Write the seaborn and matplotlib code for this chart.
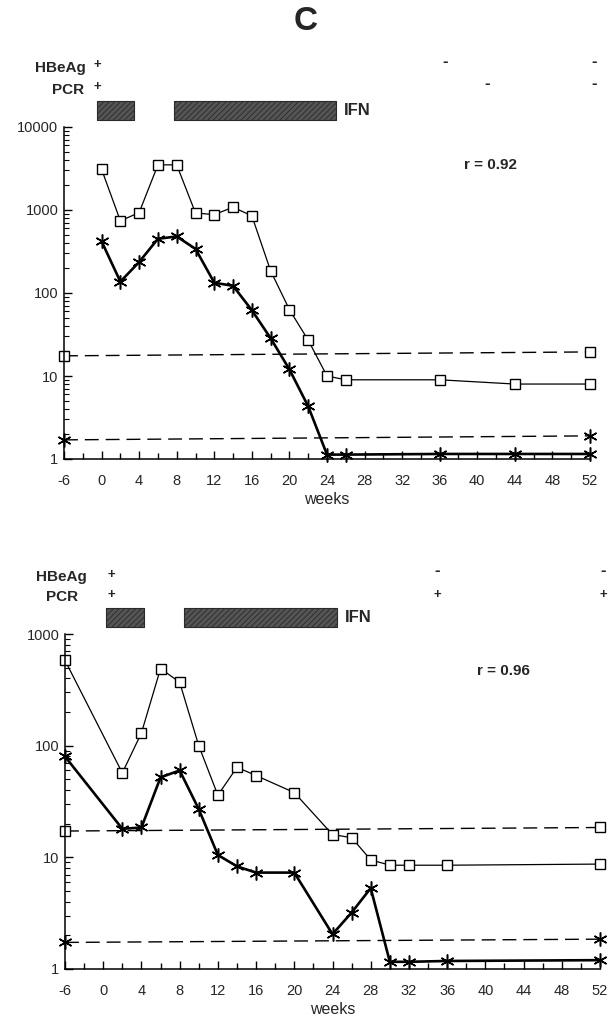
import numpy as np
import pandas as pd
import matplotlib
matplotlib.use("Agg")
import matplotlib.pyplot as plt
from matplotlib.ticker import FixedLocator, MultipleLocator, NullFormatter, LogLocator
import seaborn as sns

# ---------------- data ----------------
# upper patient
weeks_top = [0, 2, 4, 6, 8, 10, 12, 14, 16, 18, 20, 22, 24, 26, 36, 44, 52]
square_top = [3100, 740, 930, 3500, 3500, 920, 880, 1080, 850, 185, 63, 27, 10, 9, 9, 8, 8]
star_top = [420, 137, 236, 450, 480, 340, 133, 122, 62, 28.5, 12, 4.3, 1.13, 1.13, 1.15, 1.15, 1.15]
cutoff_weeks = [-6, 52]
cutoff_square_top = [17.5, 19.5]
cutoff_star_top = [1.7, 1.9]
ifn_top = [(-0.5, 3.4), (7.7, 25.0)]
hbeag_top = [(-0.5, "+"), (36.6, "-"), (52.4, "-")]
pcr_top = [(-0.5, "+"), (41.0, "-"), (52.4, "-")]
r_top = "r = 0.92"

# lower patient
weeks_bot = [-6, 2, 4, 6, 8, 10, 12, 14, 16, 20, 24, 26, 28, 30, 32, 36, 52]
square_bot = [580, 57, 130, 490, 370, 100, 36, 64, 54, 38, 16, 15, 9.5, 8.5, 8.5, 8.5, 8.7]
star_bot = [80, 18, 18.5, 52, 60, 27, 10.5, 8.3, 7.3, 7.3, 2.05, 3.2, 5.3, 1.16, 1.16, 1.18, 1.2]
cutoff_square_bot = [17.2, 18.5]
cutoff_star_bot = [1.73, 1.85]
ifn_bot = [(0.3, 4.3), (8.5, 24.5)]
hbeag_bot = [(0.85, "+"), (35.0, "-"), (52.3, "-")]
pcr_bot = [(0.85, "+"), (35.0, "+"), (52.3, "+")]
r_bot = "r = 0.96"

xtick_labels = ["-6", "0", "4", "8", "12", "16", "20", "24", "28", "32",
                "36", "40", "44", "48", "52"]
BASELINE_POS = -4  # the pre-treatment week -6 sample sits one major tick before week 0


def axis_pos(weeks):
    return [BASELINE_POS if w == -6 else w for w in weeks]


# ---------------- style ----------------
sns.set_style("ticks")
plt.rcParams["font.family"] = ["Liberation Sans", "DejaVu Sans"]
plt.rcParams["hatch.color"] = "#8c8c8c"
plt.rcParams["hatch.linewidth"] = 0.6

W, H = 612, 1025
fig = plt.figure(figsize=(W / 100, H / 100), dpi=100)


def fx(px):
    return px / W


def fy(py):
    return 1 - py / H


def make_axes(left, right, top, bottom):
    return fig.add_axes([fx(left), fy(bottom), fx(right) - fx(left), (bottom - top) / H])


def draw_panel(ax, weeks, sq, st, cut_sq, cut_st, ymax, ifn, hbeag, pcr,
               rtext, rpos, lab_y, hbeag_px, pcr_px):
    x_sq = axis_pos(weeks)
    df = pd.DataFrame({"week": x_sq, "square": sq, "star": st})
    cut = pd.DataFrame({"week": axis_pos(cutoff_weeks), "sq": cut_sq, "st": cut_st})

    # detection limits (dashed)
    sns.lineplot(data=cut, x="week", y="sq", ax=ax, color="black", lw=1.0,
                 linestyle=(0, (10, 5)), marker="s", markersize=7,
                 mfc="white", mec="black", mew=1.0, clip_on=False,
                 estimator=None, sort=False)
    sns.lineplot(data=cut, x="week", y="st", ax=ax, color="black", lw=1.0,
                 linestyle=(0, (10, 5)), marker=(6, 2, 0), markersize=10,
                 mec="black", mew=1.1, clip_on=False, estimator=None, sort=False)

    # measured series
    sns.lineplot(data=df, x="week", y="square", ax=ax, color="black", lw=0.9,
                 marker="s", markersize=7, mfc="white", mec="black", mew=1.0,
                 clip_on=False, estimator=None, sort=False)
    sns.lineplot(data=df, x="week", y="star", ax=ax, color="black", lw=1.9,
                 marker=(6, 2, 0), markersize=10, mec="black", mew=1.1,
                 clip_on=False, estimator=None, sort=False)

    ax.set_yscale("log")
    ax.set_ylim(1, ymax)
    ax.set_xlim(BASELINE_POS, 52)

    decades = [10 ** k for k in range(int(np.log10(ymax)) + 1)]
    ax.yaxis.set_major_locator(FixedLocator(decades))
    ax.set_yticklabels([str(d) for d in decades])
    ax.yaxis.set_minor_locator(LogLocator(base=10, subs=np.arange(2, 10)))
    ax.yaxis.set_minor_formatter(NullFormatter())

    xt = [BASELINE_POS] + list(range(0, 53, 4))
    ax.xaxis.set_major_locator(FixedLocator(xt))
    ax.set_xticklabels(xtick_labels)
    ax.xaxis.set_minor_locator(MultipleLocator(2))

    ax.tick_params(axis="x", which="major", direction="in", length=5.5, width=1,
                   pad=11, labelsize=10.5, color="black")
    ax.tick_params(axis="x", which="minor", direction="in", length=4.5, width=1,
                   color="black")
    ax.tick_params(axis="y", which="major", direction="in", length=6, width=1,
                   pad=4, labelsize=10.5, color="black")
    ax.tick_params(axis="y", which="minor", direction="in", length=3.5, width=0.8,
                   color="black")
    for s in ("top", "right"):
        ax.spines[s].set_visible(False)
    for s in ("left", "bottom"):
        ax.spines[s].set_linewidth(1.1)
        ax.spines[s].set_color("black")

    ax.set_xlabel("weeks", fontsize=11.5, labelpad=3)
    ax.set_ylabel("")

    # IFN treatment bars
    tr = ax.get_xaxis_transform()
    ax.broken_barh([(a, b - a) for a, b in ifn], (1.021, 0.058), transform=tr,
                   facecolor="#555555", edgecolor="#2a2a2a", hatch="//////",
                   linewidth=0.8, clip_on=False)
    ax.text(ifn[-1][1] + 0.8, 1.05, "IFN", transform=tr, ha="left", va="center",
            fontsize=12, fontweight="bold")

    # serology rows
    dash_lift = 0.012
    for (wk, sign), yy in [(h, lab_y[0]) for h in hbeag] + [(p, lab_y[1]) for p in pcr]:
        if sign == "+":
            ax.text(wk, yy, "+", transform=tr, ha="center", va="center",
                    fontsize=9.5, fontweight="bold")
        else:
            ax.text(wk, yy + dash_lift, "-", transform=tr, ha="center",
                    va="center", fontsize=12, fontweight="bold")
    fig.text(fx(hbeag_px[0]), fy(hbeag_px[1]), "HBeAg", ha="right", va="center",
             fontsize=11, fontweight="bold")
    fig.text(fx(pcr_px[0]), fy(pcr_px[1]), "PCR", ha="right", va="center",
             fontsize=11, fontweight="bold")

    ax.text(rpos[0], rpos[1], rtext, transform=ax.transAxes, ha="left",
            va="center", fontsize=11, fontweight="bold")


ax_top = make_axes(64, 590, 127, 459)
draw_panel(ax_top, weeks_top, square_top, star_top, cutoff_square_top,
           cutoff_star_top, 10000, ifn_top, hbeag_top, pcr_top, r_top,
           (0.76, 0.885), (1.186, 1.119), (86, 68), (84, 90))

ax_bot = make_axes(65, 600, 634, 969)
draw_panel(ax_bot, weeks_bot, square_bot, star_bot, cutoff_square_bot,
           cutoff_star_bot, 1000, ifn_bot, hbeag_bot, pcr_bot, r_bot,
           (0.77, 0.889), (1.177, 1.117), (87, 577), (78, 597))

fig.text(fx(306), fy(22), "C", ha="center", va="center", fontsize=24,
         fontweight="bold")

fig.savefig("out.png", dpi=100, facecolor="white")
